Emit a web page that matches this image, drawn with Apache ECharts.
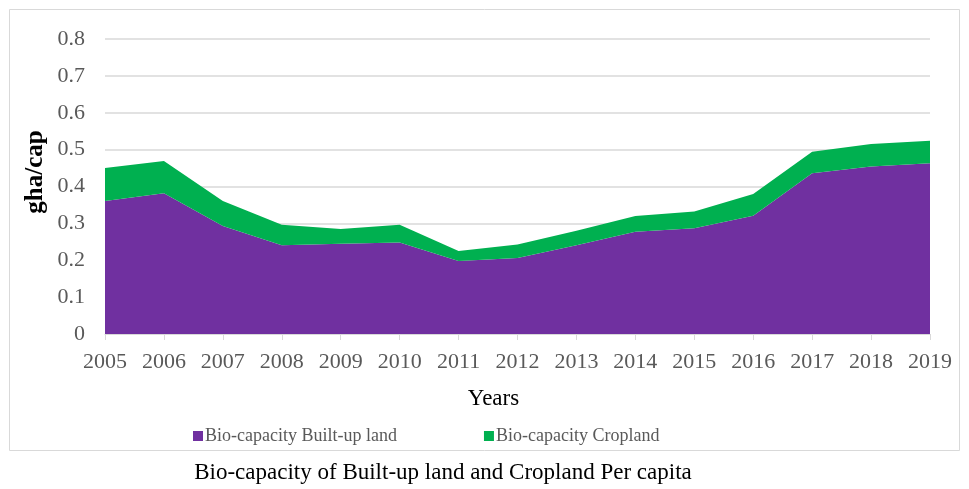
<!DOCTYPE html>
<html>
<head>
<meta charset="utf-8">
<script src="https://cdn.jsdelivr.net/npm/echarts@6/dist/echarts.min.js"></script>
<style>
  html,body{margin:0;padding:0;background:#fff;}
  #chart{width:969px;height:489px;}
</style>
</head>
<body>
<div id="chart"></div>
<script>
// ---- data ----
const years = ['2005','2006','2007','2008','2009','2010','2011','2012','2013','2014','2015','2016','2017','2018','2019'];
const builtUp  = [0.361,0.382,0.293,0.241,0.245,0.248,0.198,0.206,0.241,0.277,0.287,0.321,0.436,0.454,0.463];
const cropland = [0.089,0.087,0.068,0.055,0.040,0.048,0.027,0.037,0.039,0.043,0.045,0.059,0.058,0.061,0.061];
const yTicks = ['0','0.1','0.2','0.3','0.4','0.5','0.6','0.7','0.8'];

const serif = '"Liberation Serif", "DejaVu Serif", serif';
const chart = echarts.init(document.getElementById('chart'));

chart.setOption({
  backgroundColor:'#fff',
  animation:false,
  textStyle:{ fontFamily: serif },
  graphic:[
    // 外框
    { type:'rect', shape:{ x:9.5, y:9.5, width:950, height:441 },
      style:{ fill:'none', stroke:'#d9d9d9', lineWidth:1 } },
    // y 軸名稱
    { type:'text', x:36, y:172, rotation:Math.PI/2,
      style:{ text:'gha/cap', fill:'#000', font:'bold 25px ' + serif,
        align:'center', verticalAlign:'middle' } },
    // 圖說
    { type:'text', x:443, y:473,
      style:{ text:'Bio-capacity of Built-up land and Cropland Per capita',
        fill:'#000', font:'23px ' + serif, align:'center', verticalAlign:'middle' } }
  ],
  grid:{ left:105, right:39, top:39, bottom:155 },
  legend:{
    left:188, top:422,
    itemWidth:10, itemHeight:10, itemGap:87,
    icon:'rect',
    textStyle:{ color:'#595959', fontSize:18, fontFamily:serif, padding:[0,0,0,-3] },
    data:['Bio-capacity Built-up land','Bio-capacity Cropland']
  },
  xAxis:{
    type:'category', data:years, boundaryGap:false,
    name:'Years', nameLocation:'middle', nameGap:53,
    nameTextStyle:{ color:'#000', fontSize:23, fontFamily:serif, padding:[0,48,0,0] },
    axisLine:{ lineStyle:{ color:'#d9d9d9' } },
    axisTick:{ show:true, alignWithLabel:true, length:6, lineStyle:{ color:'#d9d9d9' } },
    axisLabel:{ color:'#595959', fontSize:22, fontFamily:serif, margin:17 }
  },
  yAxis:{
    type:'value', min:0, max:0.8, interval:0.1,
    axisLine:{ show:false }, axisTick:{ show:false },
    axisLabel:{ color:'#595959', fontSize:22, fontFamily:serif, margin:20,
      formatter: v => yTicks[Math.round(v*10)] },
    splitLine:{ lineStyle:{ color:'#d9d9d9', width:1.5 } }
  },
  series:[
    { name:'Bio-capacity Built-up land', type:'line', stack:'bc', data:builtUp,
      symbol:'none', lineStyle:{ width:0 }, itemStyle:{ color:'#7030a0' },
      areaStyle:{ color:'#7030a0', opacity:1 } },
    { name:'Bio-capacity Cropland', type:'line', stack:'bc', data:cropland,
      symbol:'none', lineStyle:{ width:0 }, itemStyle:{ color:'#00b050' },
      areaStyle:{ color:'#00b050', opacity:1 } }
  ]
});
</script>
</body>
</html>
